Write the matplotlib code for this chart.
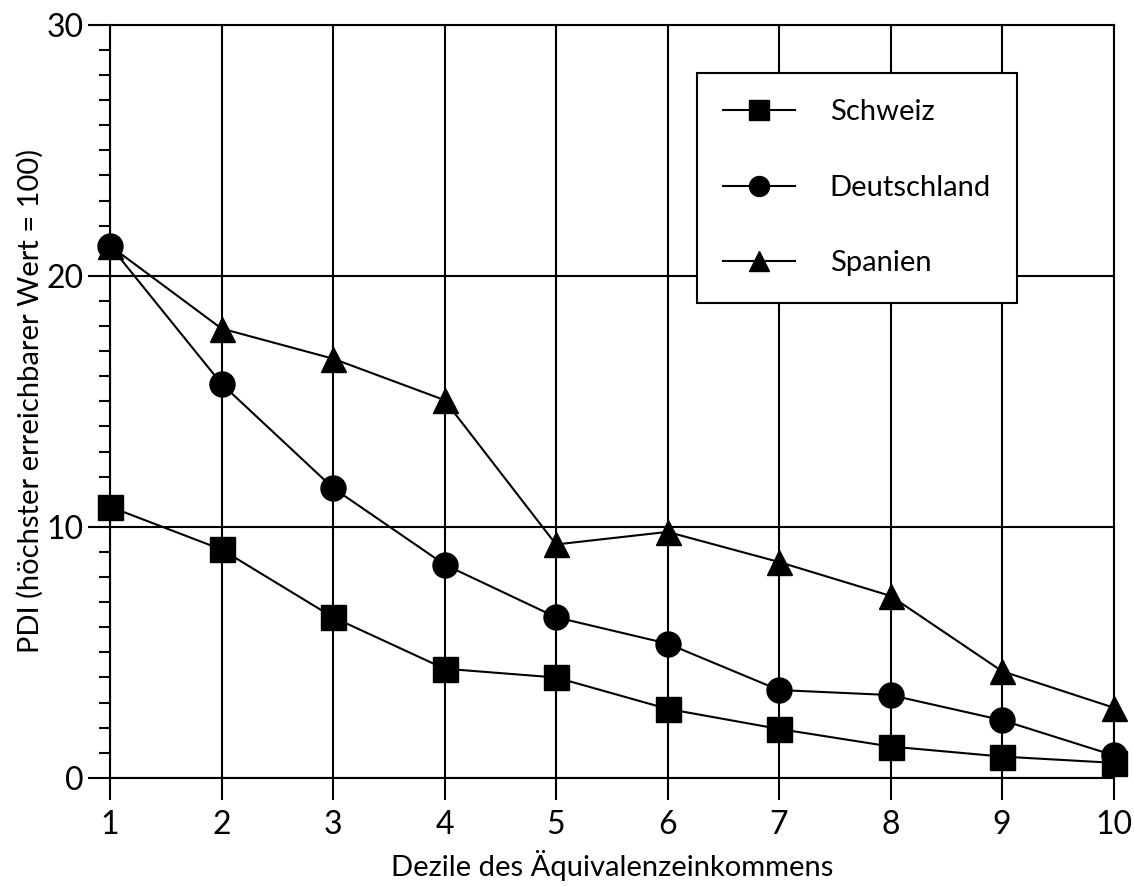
import matplotlib.pyplot as plt
from matplotlib.ticker import MultipleLocator

plt.rcParams['font.family'] = ['Lato', 'DejaVu Sans']

# Dezile des Äquivalenzeinkommens
dezile = [1, 2, 3, 4, 5, 6, 7, 8, 9, 10]

# PDI values
schweiz = [10.8, 9.1, 6.4, 4.35, 4.0, 2.75, 1.95, 1.25, 0.85, 0.6]
deutschland = [21.2, 15.7, 11.55, 8.5, 6.4, 5.35, 3.5, 3.3, 2.3, 0.9]
spanien = [21.2, 17.9, 16.7, 15.05, 9.3, 9.8, 8.6, 7.25, 4.25, 2.8]

fig = plt.figure(figsize=(11.34, 8.86), dpi=100)
ax = fig.add_axes([0.097, 0.122, 0.885, 0.850])

style = dict(color="black", linewidth=1.5, markersize=18, clip_on=False, zorder=3)
ax.plot(dezile, schweiz, marker="s", label="Schweiz", **style)
ax.plot(dezile, deutschland, marker="o", label="Deutschland", **style)
ax.plot(dezile, spanien, marker="^", label="Spanien", **style)

ax.set_xlim(1, 10)
ax.set_ylim(0, 30)
ax.set_xticks(dezile)
ax.set_yticks([0, 10, 20, 30])
ax.yaxis.set_minor_locator(MultipleLocator(1))

ax.grid(True, which="major", color="black", linewidth=1.5)
for s in ax.spines.values():
    s.set_linewidth(1.5)

ax.tick_params(axis="both", which="major", direction="out", length=16, width=1.5,
               labelsize=23)
ax.tick_params(axis="x", which="major", pad=7)
ax.tick_params(axis="y", which="major", pad=3)
ax.tick_params(axis="y", which="minor", direction="out", length=8, width=1.5)

ax.set_xlabel("Dezile des Äquivalenzeinkommens", fontsize=21, labelpad=7)
ax.set_ylabel("PDI (höchster erreichbarer Wert = 100)", fontsize=21, labelpad=2)

leg = ax.legend(loc="upper left", bbox_to_anchor=(0.585, 0.936), fontsize=21,
                frameon=True, fancybox=False, edgecolor="black", framealpha=1,
                borderpad=0.9, labelspacing=1.7, handlelength=2.45,
                handletextpad=1.2, borderaxespad=0, markerscale=0.8)
leg.get_frame().set_linewidth(1.5)
leg.set_zorder(5)

fig.savefig("out.png", dpi=100)
